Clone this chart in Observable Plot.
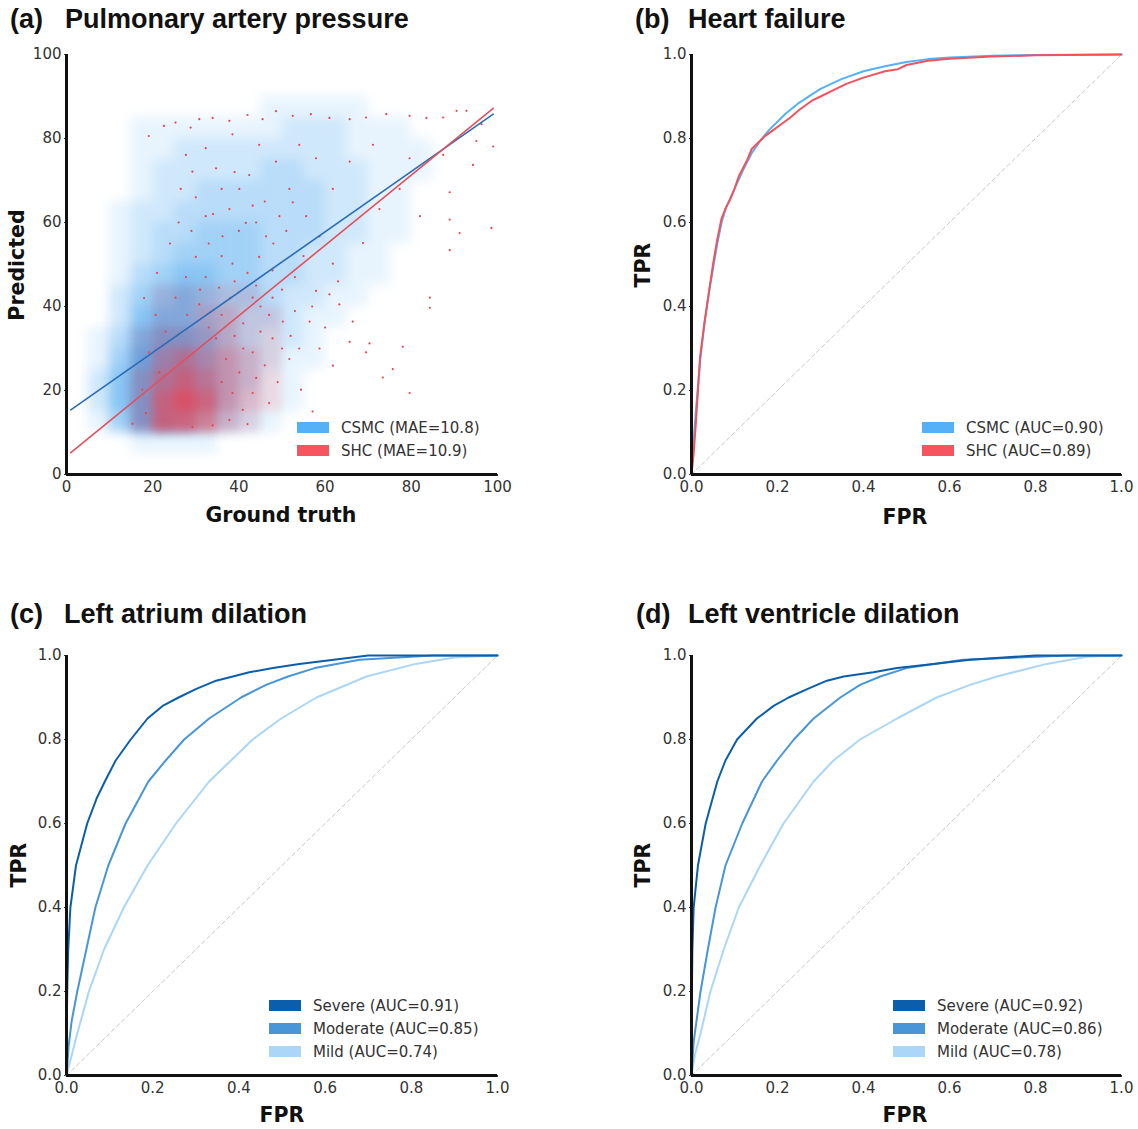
<!DOCTYPE html>
<html><head><meta charset="utf-8">
<script src="https://cdn.jsdelivr.net/npm/d3@7"></script>
<script src="https://cdn.jsdelivr.net/npm/@observablehq/plot@0.6"></script>
<style>
body{margin:0;background:#fff;}
#root{position:relative;width:1138px;height:1129px;overflow:hidden;background:#fff;}
.panel{position:absolute;}
.title{position:absolute;font-family:"Liberation Sans",Arial,sans-serif;font-weight:bold;font-size:27px;line-height:27px;color:#111;white-space:nowrap;}
.alabel{position:absolute;font-family:"DejaVu Sans",sans-serif;font-weight:bold;font-size:20.5px;line-height:21px;color:#111;white-space:nowrap;transform:translate(-50%,-50%);}
.alabel.v{transform:translate(-50%,-50%) rotate(-90deg);}
.legend{position:absolute;font-family:"DejaVu Sans",sans-serif;font-size:15px;color:#333;}
.legend .row{display:flex;align-items:center;height:23px;white-space:nowrap;}
.legend .sw{width:32px;height:11px;margin-right:12px;flex:none;}
</style></head>
<body><div id="root"></div>
<script>
// ---------- DATA ----------
// Panel (a): density of the CSMC / SHC scatter clouds, estimated per 5x5 bin (0 = empty, 9 = densest)
const binX = [0,5,10,15,20,25,30,35,40,45,50,55,60,65,70,75,80,85,90,95];
const binY = [85,80,75,70,65,60,55,50,45,40,35,30,25,20,15,10,5];
const csmcDensity = [
 [0,0,0,0,0,0,0,0,0,1,1,1,1,1,0,0,0,0,0,0],
 [0,0,0,1,1,1,1,1,1,1,2,2,2,1,1,1,0,0,0,0],
 [0,0,0,1,1,2,2,2,2,2,2,2,2,1,1,1,1,0,0,0],
 [0,0,0,1,2,2,2,2,2,3,3,2,2,2,1,1,1,0,0,0],
 [0,0,0,1,2,2,3,3,3,3,3,3,2,2,1,1,0,0,0,0],
 [0,0,1,2,2,3,3,3,3,3,3,3,2,2,1,1,0,0,0,0],
 [0,0,1,2,3,3,4,4,4,3,3,3,2,2,1,1,0,0,0,0],
 [0,0,1,2,3,4,4,4,4,3,3,2,2,1,1,0,0,0,0,0],
 [0,0,1,3,4,5,5,4,4,3,3,2,2,1,1,0,0,0,0,0],
 [0,0,2,4,5,6,5,4,4,3,2,2,1,1,0,0,0,0,0,0],
 [0,0,2,5,6,6,5,4,3,3,2,1,1,0,0,0,0,0,0,0],
 [0,1,3,6,7,7,6,4,3,2,2,1,0,0,0,0,0,0,0,0],
 [0,1,4,7,8,7,6,4,3,2,1,1,0,0,0,0,0,0,0,0],
 [0,2,5,8,9,8,6,4,3,1,1,0,0,0,0,0,0,0,0,0],
 [0,2,5,8,9,8,6,4,2,1,1,0,0,0,0,0,0,0,0,0],
 [0,1,4,7,7,6,4,3,2,1,0,0,0,0,0,0,0,0,0,0],
 [0,0,0,1,1,1,1,0,0,0,0,0,0,0,0,0,0,0,0,0]
];
const shcDensity = [
 [0,0,0,0,0,0,0,0,0,0,0,0,0,0,0,0,0,0,0,0],
 [0,0,0,0,0,0,0,0,0,0,0,0,0,0,0,0,0,0,0,0],
 [0,0,0,0,0,0,0,0,0,0,0,0,0,0,0,0,0,0,0,0],
 [0,0,0,0,0,0,0,0,0,0,0,0,0,0,0,0,0,0,0,0],
 [0,0,0,0,0,0,0,0,0,0,0,0,0,0,0,0,0,0,0,0],
 [0,0,0,0,0,0,0,0,0,0,0,0,0,0,0,0,0,0,0,0],
 [0,0,0,0,0,0,0,0,0,0,0,0,0,0,0,0,0,0,0,0],
 [0,0,0,0,0,0,0,0,0,0,0,0,0,0,0,0,0,0,0,0],
 [0,0,0,0,0,0,0,0,0,0,0,0,0,0,0,0,0,0,0,0],
 [0,0,0,0,1,1,1,1,1,0,0,0,0,0,0,0,0,0,0,0],
 [0,0,0,0,1,1,2,2,1,1,0,0,0,0,0,0,0,0,0,0],
 [0,0,0,1,2,2,2,2,1,1,0,0,0,0,0,0,0,0,0,0],
 [0,0,0,1,3,4,3,3,2,1,0,0,0,0,0,0,0,0,0,0],
 [0,0,0,2,4,5,4,3,2,1,0,0,0,0,0,0,0,0,0,0],
 [0,0,0,2,5,6,5,3,2,1,0,0,0,0,0,0,0,0,0,0],
 [0,0,0,2,5,5,4,2,1,0,0,0,0,0,0,0,0,0,0,0],
 [0,0,0,0,0,0,0,0,0,0,0,0,0,0,0,0,0,0,0,0]
];
// Panel (a): scattered individual SHC points (ground truth, predicted)
const shcSparse = [
 [22.6,83.0],[25.3,83.8],[19.1,80.6],[28.8,82.6],[30.8,84.6],[33.9,84.9],[37.8,84.2],[42,85.6],[45.5,84.6],[48.6,86.5],
 [52.5,85.4],[56.7,85.8],[61,84.9],[65.7,84.6],[69.5,85],[74.2,85.8],[79.6,85.4],[83.5,84.9],[87.4,85],[90.5,86.6],
 [92.8,86.6],[96.3,83.4],[99,78.1],[94.3,73.7],[98.6,58.7],[88.9,67.2],[91.2,57.5],[88.9,53.4],[84.3,42.1],[84.3,39.7],
 [79.6,19.4],[78,30.4],[73.4,23.1],[69.5,29.1],[65.7,31.6],[63.3,40.5],[57.9,43.7],[54.4,20.2],[57.1,15],[51.7,27.5],
 [50.2,36.4],[47.8,48.6],[46.3,56.7],[43.2,64],[40.1,68],[37.8,63.2],[34.7,72.9],[32.3,77.7],[29.2,72.1],[27.7,76.1],
 [26.5,68],[32.3,61.5],[36.2,56.7],[41.6,59.9],[44.7,51.8],[38.5,50.2],[35.4,44.5],[43.2,42.1],[47.8,42.1],[53,47],
 [53,38.9],[56.4,36.4],[58.7,30],[61.8,25.9],[47.8,32.4],[43.2,29.1],[40.1,24.3],[38.5,19.4],[37.8,13],[33.9,11.7],
 [29.2,11.3],[40.9,15.4],[43.2,19.4],[37,27.5],[34.7,32.4],[23,34],[20.7,38],[19.1,29.1],[25.3,42.1],[27.7,47],
 [30,51.8],[32.3,47],[30.8,40.5],[21.5,24.3],[17.6,20.2],[18.4,14.6],[15.3,12.1],[70.3,31.2],[75.7,25.1],[66.4,36.4],
 [61,42.9],[61.8,50.2],[58.7,56.7],[55.6,61.5],[51.7,68],[48.6,74.5],[44.7,78.5],[38.5,81],[68.8,55.1],[72.6,63.2],
 [77.3,68],[82,61.5],[88.9,60.7],[95.1,79.4],[87.4,76.1],[79.6,75.3],[71.1,78.5],[65.7,74.5],[61.8,68],[57.9,75.3],
 [54,78.5],[52.5,64.8],[49.4,61.5],[42.4,71.3],[45,40],[41,36],[39,33],[46,26],[49,22],[36,38],
 [33,55],[36,52],[39,46],[42,48],[44,45],[47,38],[50,30],[52,33],[45,34],[41,30],[44,23],[47,17],[42,12],[36,22],
 [33,35],[31,44],[28,38],[38,42],[40,58],[34,62],[30,66],[48,55],[50,44],[55,52],[57,40],[54,30],[60,35],[63,46],
 [46,65],[39,72],[36,68],[44,60],[51,58],[24,55],[21,48],[18,42],[26,60],[29,58]
];
// Panel (a): fitted regression lines (end points)
const csmcFit = [[1,15.4],[99,85.8]];
const shcFit = [[1,5.2],[99,87.2]];

// Panel (b): ROC curves, Heart failure [FPR, TPR]
const hfCsmc = [[0,0],[0.005,0.08],[0.01,0.15],[0.02,0.27],[0.03,0.36],[0.04,0.43],[0.05,0.49],[0.06,0.55],[0.07,0.6],[0.08,0.635],[0.1,0.68],[0.12,0.725],[0.14,0.765],[0.16,0.795],[0.18,0.82],[0.2,0.84],[0.22,0.86],[0.25,0.885],[0.28,0.905],[0.3,0.918],[0.35,0.942],[0.4,0.96],[0.45,0.972],[0.5,0.982],[0.55,0.989],[0.6,0.993],[0.7,0.997],[0.8,0.999],[1,1]];
const hfShc = [[0,0],[0.005,0.05],[0.01,0.12],[0.015,0.2],[0.02,0.28],[0.025,0.32],[0.03,0.36],[0.04,0.43],[0.05,0.5],[0.06,0.56],[0.07,0.61],[0.08,0.635],[0.09,0.655],[0.1,0.68],[0.11,0.71],[0.12,0.73],[0.13,0.75],[0.14,0.775],[0.15,0.785],[0.17,0.805],[0.19,0.82],[0.21,0.835],[0.23,0.85],[0.25,0.868],[0.28,0.89],[0.3,0.9],[0.33,0.915],[0.36,0.93],[0.4,0.945],[0.45,0.96],[0.48,0.965],[0.5,0.975],[0.55,0.985],[0.6,0.99],[0.7,0.995],[0.8,0.998],[1,1]];

// Panel (c): Left atrium dilation
const laSevere = [[0,0],[0.001,0.15],[0.002,0.22],[0.004,0.3],[0.009,0.4],[0.022,0.5],[0.048,0.6],[0.07,0.66],[0.089,0.7],[0.114,0.75],[0.149,0.8],[0.188,0.85],[0.223,0.88],[0.26,0.9],[0.3,0.92],[0.347,0.94],[0.386,0.95],[0.424,0.96],[0.479,0.97],[0.54,0.98],[0.62,0.99],[0.7,1],[1,1]];
const laModerate = [[0,0],[0.005,0.07],[0.012,0.13],[0.025,0.2],[0.046,0.3],[0.067,0.4],[0.097,0.5],[0.137,0.6],[0.19,0.7],[0.23,0.75],[0.273,0.8],[0.331,0.85],[0.405,0.9],[0.463,0.93],[0.514,0.95],[0.576,0.97],[0.68,0.99],[0.85,1],[1,1]];
const laMild = [[0,0],[0.01,0.04],[0.025,0.1],[0.052,0.2],[0.087,0.3],[0.133,0.4],[0.188,0.5],[0.254,0.6],[0.331,0.7],[0.432,0.8],[0.498,0.85],[0.58,0.9],[0.696,0.95],[0.81,0.98],[0.9,0.995],[1,1]];

// Panel (d): Left ventricle dilation
const lvSevere = [[0,0],[0.001,0.2],[0.002,0.3],[0.005,0.4],[0.015,0.5],[0.033,0.6],[0.06,0.7],[0.079,0.75],[0.106,0.8],[0.152,0.85],[0.191,0.88],[0.226,0.9],[0.269,0.92],[0.315,0.94],[0.354,0.95],[0.423,0.96],[0.478,0.97],[0.563,0.98],[0.648,0.99],[0.8,1],[1,1]];
const lvModerate = [[0,0],[0.005,0.08],[0.021,0.2],[0.038,0.3],[0.056,0.4],[0.079,0.5],[0.118,0.6],[0.164,0.7],[0.199,0.75],[0.238,0.8],[0.284,0.85],[0.346,0.9],[0.392,0.93],[0.439,0.95],[0.5,0.97],[0.563,0.98],[0.632,0.99],[0.88,1],[1,1]];
const lvMild = [[0,0],[0.008,0.05],[0.021,0.1],[0.044,0.2],[0.075,0.3],[0.11,0.4],[0.16,0.5],[0.214,0.6],[0.284,0.7],[0.33,0.75],[0.392,0.8],[0.478,0.85],[0.57,0.9],[0.648,0.93],[0.71,0.95],[0.826,0.98],[0.92,0.997],[1,1]];

const chance = [[0,0],[1,1]];
const scatterTicks = [0,20,40,60,80,100];
const rocTicks = [0,0.2,0.4,0.6,0.8,1.0];

const legendA = [["CSMC (MAE=10.8)","#55b1f7"],["SHC (MAE=10.9)","#f65560"]];
const legendB = [["CSMC (AUC=0.90)","#55b1f7"],["SHC (AUC=0.89)","#f65560"]];
const legendC = [["Severe (AUC=0.91)","#0b5eab"],["Moderate (AUC=0.85)","#4895d8"],["Mild (AUC=0.74)","#aad6f7"]];
const legendD = [["Severe (AUC=0.92)","#0b5eab"],["Moderate (AUC=0.86)","#4895d8"],["Mild (AUC=0.78)","#aad6f7"]];

// ---------- RENDER ----------
const root = document.getElementById("root");
const W = 560, H = 500;

function gridTable(grid) {
  const out = [];
  grid.forEach((row, i) => row.forEach((v, j) => { if (v > 0) out.push({x1: binX[j], x2: binX[j] + 5, y1: binY[i], y2: binY[i] + 5, v}); }));
  return out;
}

function addPanel({left, top, x0, x1, yb, yt, domain, ticks, fmt, marks}) {
  const svg = Plot.plot({
    width: W, height: H,
    marginLeft: x0 - left, marginRight: left + W - x1,
    marginTop: yt - top, marginBottom: top + H - yb,
    x: {domain, ticks, tickFormat: fmt, tickSize: 2, tickPadding: 5, label: null},
    y: {domain, ticks, tickFormat: fmt, tickSize: 2, tickPadding: 3, label: null},
    opacity: {domain: [0, 7], range: [0, 1], clamp: true},
    style: {fontFamily: "DejaVu Sans, sans-serif", fontSize: "15px", color: "#333", background: "transparent", overflow: "visible"},
    marks: [
      ...marks,
      Plot.ruleX([domain[0]], {stroke: "#111", strokeWidth: 3}),
      Plot.ruleY([domain[0]], {stroke: "#111", strokeWidth: 3})
    ]
  });
  const div = document.createElement("div");
  div.className = "panel";
  div.style.left = left + "px"; div.style.top = top + "px"; div.style.width = W + "px";
  div.appendChild(svg);
  root.appendChild(div);
  return svg;
}

function addText(cls, text, x, y) {
  const d = document.createElement("div");
  d.className = cls; d.textContent = text;
  d.style.left = x + "px"; d.style.top = y + "px";
  root.appendChild(d);
}
function addLegend(items, x, y) {
  const d = document.createElement("div");
  d.className = "legend"; d.style.left = x + "px"; d.style.top = y + "px";
  items.forEach(([label, color]) => {
    const r = document.createElement("div"); r.className = "row";
    const s = document.createElement("span"); s.className = "sw"; s.style.background = color;
    const t = document.createElement("span"); t.textContent = label;
    r.appendChild(s); r.appendChild(t); d.appendChild(r);
  });
  root.appendChild(d);
}

const diag = Plot.line(chance, {x: d => d[0], y: d => d[1], stroke: "#c8c8c8", strokeWidth: 1, strokeDasharray: "4,3"});
const roc = (data, color, w = 2) => Plot.line(data, {x: d => d[0], y: d => d[1], stroke: color, strokeWidth: w});

// (a)
const svgA = addPanel({
  left: 0, top: 0, x0: 66, x1: 497, yb: 474, yt: 54,
  domain: [0, 100], ticks: scatterTicks, fmt: d3.format("d"),
  marks: [
    Plot.rect(gridTable(csmcDensity), {x1: "x1", x2: "x2", y1: "y1", y2: "y2", fill: "#5aaef0", fillOpacity: "v"}),
    Plot.rect(gridTable(shcDensity), {x1: "x1", x2: "x2", y1: "y1", y2: "y2", fill: "#ee4250", fillOpacity: "v"}),
    Plot.dot(shcSparse, {x: d => d[0], y: d => d[1], r: 1.1, fill: "#ea4350", stroke: null}),
    Plot.line(csmcFit, {x: d => d[0], y: d => d[1], stroke: "#2a6cb6", strokeWidth: 1.6}),
    Plot.line(shcFit, {x: d => d[0], y: d => d[1], stroke: "#e2505c", strokeWidth: 1.6})
  ]
});
// soften the density cells into a cloud
const rectGroups = Array.from(svgA.querySelectorAll("g")).filter(g => g.querySelectorAll(":scope > rect").length > 5);
rectGroups.forEach((g, i) => { g.style.filter = i === 0 ? "blur(6px)" : "blur(5px)"; });

// (b)
addPanel({
  left: 580, top: 0, x0: 691, x1: 1121, yb: 474, yt: 54,
  domain: [0, 1], ticks: rocTicks, fmt: d3.format(".1f"),
  marks: [diag, roc(hfCsmc, "#55b1f7"), roc(hfShc, "#f2525e")]
});
// (c)
addPanel({
  left: 0, top: 600, x0: 66, x1: 497, yb: 1075, yt: 655,
  domain: [0, 1], ticks: rocTicks, fmt: d3.format(".1f"),
  marks: [diag, roc(laMild, "#aad6f7"), roc(laModerate, "#4895d8"), roc(laSevere, "#0b5eab")]
});
// (d)
addPanel({
  left: 580, top: 600, x0: 691, x1: 1121, yb: 1075, yt: 655,
  domain: [0, 1], ticks: rocTicks, fmt: d3.format(".1f"),
  marks: [diag, roc(lvMild, "#aad6f7"), roc(lvModerate, "#4895d8"), roc(lvSevere, "#0b5eab")]
});

// titles
addText("title", "(a)", 10, 6);
addText("title", "Pulmonary artery pressure", 65, 6);
addText("title", "(b)", 635, 6);
addText("title", "Heart failure", 688, 6);
addText("title", "(c)", 10, 601);
addText("title", "Left atrium dilation", 64, 601);
addText("title", "(d)", 636, 601);
addText("title", "Left ventricle dilation", 688, 601);

// axis labels
addText("alabel", "Ground truth", 281, 515);
addText("alabel v", "Predicted", 17, 265);
addText("alabel", "FPR", 905, 517);
addText("alabel v", "TPR", 643, 265);
addText("alabel", "FPR", 282, 1115);
addText("alabel v", "TPR", 19, 865);
addText("alabel", "FPR", 905, 1115);
addText("alabel v", "TPR", 643, 865);

// legends
addLegend(legendA, 297, 416);
addLegend(legendB, 922, 416);
addLegend(legendC, 269, 994);
addLegend(legendD, 893, 994);
</script>
</body></html>
